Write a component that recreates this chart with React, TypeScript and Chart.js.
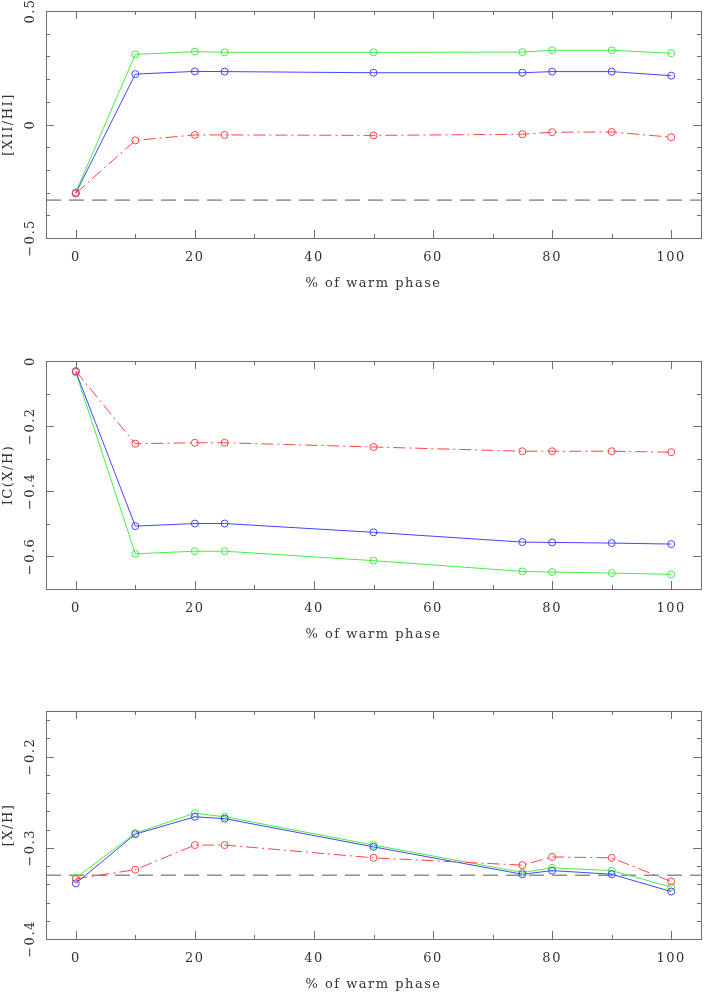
import React, { useEffect, useRef } from "react";
import { Chart, registerables } from "chart.js";

Chart.register(...registerables);

// ---------- data ----------
const phase = [0, 10, 20, 25, 50, 75, 80, 90, 100];

// Panel 1: [XII/HI]
const xii_green = [-0.299, 0.309, 0.321, 0.318, 0.318, 0.319, 0.327, 0.327, 0.314];
const xii_blue = [-0.303, 0.222, 0.234, 0.233, 0.228, 0.228, 0.233, 0.233, 0.215];
const xii_red = [-0.303, -0.07, -0.046, -0.046, -0.048, -0.043, -0.034, -0.033, -0.056];
const xii_ref = -0.333;

// Panel 2: IC(X/H)
const ic_red = [-0.031, -0.254, -0.251, -0.251, -0.264, -0.277, -0.277, -0.277, -0.28];
const ic_blue = [-0.032, -0.507, -0.499, -0.499, -0.526, -0.556, -0.557, -0.559, -0.562];
const ic_green = [-0.035, -0.592, -0.584, -0.584, -0.613, -0.646, -0.648, -0.651, -0.655];

// Panel 3: [X/H]
const xh_green = [-0.333, -0.284, -0.262, -0.266, -0.297, -0.327, -0.322, -0.325, -0.343];
const xh_blue = [-0.339, -0.285, -0.266, -0.268, -0.299, -0.329, -0.325, -0.329, -0.348];
const xh_red = [-0.334, -0.324, -0.297, -0.297, -0.311, -0.319, -0.31, -0.311, -0.337];
const xh_ref = -0.33;

// ticks
const xTicks = [0, 20, 40, 60, 80, 100];
const xRange = [-5, 105];
const yTicks1 = [-0.5, 0, 0.5];
const yTicks2 = [-0.6, -0.4, -0.2, 0];
const yTicks3 = [-0.4, -0.3, -0.2];

const xTitle = "% of warm phase";

// ---------- styles ----------
const GREEN = "#44ee44";
const BLUE = "#4444ff";
const RED = "#ff4444";
const FRAME = "#6e6e6e";
const TEXT = "#333333";
const FONT = "DejaVu Serif";
const FSIZE = 13;
const SPACING = "1.5px";

function series(ys: number[], color: string, dashed: boolean) {
  return {
    data: phase.map((x, i) => ({ x, y: ys[i] })),
    borderColor: color,
    backgroundColor: "rgba(0,0,0,0)",
    borderWidth: 1,
    borderDash: dashed ? [12, 4, 2, 4] : [],
    pointRadius: 3.5,
    pointBorderWidth: 1,
    pointBorderColor: color,
    pointBackgroundColor: "rgba(0,0,0,0)",
    showLine: true,
    tension: 0,
  };
}

function refLine(y: number) {
  return {
    data: [
      { x: xRange[0], y },
      { x: xRange[1], y },
    ],
    borderColor: "#555555",
    borderWidth: 1,
    borderDash: [15, 8],
    pointRadius: 0,
    showLine: true,
  };
}

function fmt(v: number) {
  const s = String(Math.round(v * 100) / 100);
  return s.replace("-", "\u2212");
}

const spacing = {
  id: "spacing",
  beforeLayout(chart: any) {
    (chart.ctx as any).letterSpacing = SPACING;
  },
  beforeDraw(chart: any) {
    (chart.ctx as any).letterSpacing = SPACING;
  },
};

const frameTicks = {
  id: "frameTicks",
  afterDraw(chart: any, _args: any, opts: any) {
    const { ctx, chartArea } = chart;
    const { left, right, top, bottom } = chartArea;
    const xs = chart.scales.x;
    const ys = chart.scales.y;
    ctx.save();
    ctx.strokeStyle = FRAME;
    ctx.lineWidth = 1;
    ctx.setLineDash([]);
    ctx.strokeRect(Math.round(left) + 0.5, Math.round(top) + 0.5, Math.round(right - left), Math.round(bottom - top));
    ctx.beginPath();
    for (let v = 0; v <= 100; v += 10) {
      const major = v % 20 === 0;
      const len = major ? 8 : 4;
      const px = Math.round(xs.getPixelForValue(v)) + 0.5;
      ctx.moveTo(px, bottom);
      ctx.lineTo(px, bottom - len);
      ctx.moveTo(px, top);
      ctx.lineTo(px, top + len);
    }
    const n = Math.floor((opts.yMax - opts.yMin) / opts.yMinor + 1e-6);
    for (let i = 0; i <= n; i++) {
      const v = opts.yMin + i * opts.yMinor;
      const r = v / opts.yMajor;
      const major = Math.abs(r - Math.round(r)) < 1e-6;
      const len = major ? 8 : 4;
      const py = Math.round(ys.getPixelForValue(v)) + 0.5;
      ctx.moveTo(left, py);
      ctx.lineTo(left + len, py);
      ctx.moveTo(right, py);
      ctx.lineTo(right - len, py);
    }
    ctx.stroke();
    ctx.restore();
  },
};

type PanelProps = {
  top: number;
  height: number;
  padTop: number;
  padBottom: number;
  datasets: any[];
  yMin: number;
  yMax: number;
  yTicks: number[];
  yMajor: number;
  yMinor: number;
  yTitle: string;
};

function Panel(p: PanelProps) {
  const ref = useRef<HTMLCanvasElement>(null);
  useEffect(() => {
    const chart = new Chart(ref.current!, {
      type: "scatter",
      data: { datasets: p.datasets },
      plugins: [spacing, frameTicks],
      options: {
        animation: false,
        responsive: false,
        maintainAspectRatio: false,
        layout: { padding: { top: p.padTop, right: 2, bottom: p.padBottom, left: 0 } },
        plugins: {
          legend: { display: false },
          tooltip: { enabled: false },
          frameTicks: { yMin: p.yMin, yMax: p.yMax, yMajor: p.yMajor, yMinor: p.yMinor },
        } as any,
        scales: {
          x: {
            type: "linear",
            min: xRange[0],
            max: xRange[1],
            grid: { display: false, drawTicks: false },
            border: { display: false },
            afterBuildTicks: (s: any) => {
              s.ticks = xTicks.map((v) => ({ value: v }));
            },
            afterFit: (s: any) => {
              s.height = 62;
            },
            ticks: {
              color: TEXT,
              font: { family: FONT, size: FSIZE },
              padding: 12,
              maxRotation: 0,
              minRotation: 0,
              autoSkip: false,
              callback: (v: any) => fmt(Number(v)),
            },
            title: {
              display: true,
              text: xTitle,
              color: TEXT,
              font: { family: FONT, size: FSIZE },
              padding: { top: 0, bottom: 9 },
            },
          },
          y: {
            type: "linear",
            min: p.yMin,
            max: p.yMax,
            grid: { display: false, drawTicks: false },
            border: { display: false },
            afterBuildTicks: (s: any) => {
              s.ticks = p.yTicks.map((v) => ({ value: v }));
            },
            afterFit: (s: any) => {
              s.width = 46;
            },
            ticks: {
              color: TEXT,
              font: { family: FONT, size: FSIZE },
              padding: -3,
              minRotation: 90,
              maxRotation: 90,
              crossAlign: "center",
              autoSkip: false,
              callback: (v: any) => fmt(Number(v)),
            },
            title: {
              display: true,
              text: p.yTitle,
              color: TEXT,
              font: { family: FONT, size: FSIZE },
              padding: { top: 1, bottom: 0 },
            },
          },
        },
      } as any,
    });
    return () => chart.destroy();
  }, []);
  return (
    <canvas
      ref={ref}
      width={706}
      height={p.height}
      style={{ position: "absolute", left: 0, top: p.top, width: 706, height: p.height }}
    />
  );
}

export default function App() {
  return (
    <div
      style={{
        position: "absolute",
        left: 0,
        top: 0,
        width: 706,
        height: 992,
        overflow: "hidden",
        background: "#fff",
      }}
    >
      <Panel
        top={0}
        height={330}
        padTop={11}
        padBottom={30}
        yMin={-0.5}
        yMax={0.5}
        yTicks={yTicks1}
        yMajor={0.5}
        yMinor={0.1}
        yTitle="[XII/HI]"
        datasets={[
          series(xii_red, RED, true),
          series(xii_blue, BLUE, false),
          series(xii_green, GREEN, false),
          refLine(xii_ref),
        ]}
      />
      <Panel
        top={330}
        height={350}
        padTop={31}
        padBottom={29}
        yMin={-0.7}
        yMax={0}
        yTicks={yTicks2}
        yMajor={0.2}
        yMinor={0.1}
        yTitle="IC(X/H)"
        datasets={[
          series(ic_red, RED, true),
          series(ic_blue, BLUE, false),
          series(ic_green, GREEN, false),
        ]}
      />
      <Panel
        top={680}
        height={321}
        padTop={31}
        padBottom={0}
        yMin={-0.4}
        yMax={-0.15}
        yTicks={yTicks3}
        yMajor={0.1}
        yMinor={0.02}
        yTitle="[X/H]"
        datasets={[
          series(xh_red, RED, true),
          series(xh_blue, BLUE, false),
          series(xh_green, GREEN, false),
          refLine(xh_ref),
        ]}
      />
    </div>
  );
}
